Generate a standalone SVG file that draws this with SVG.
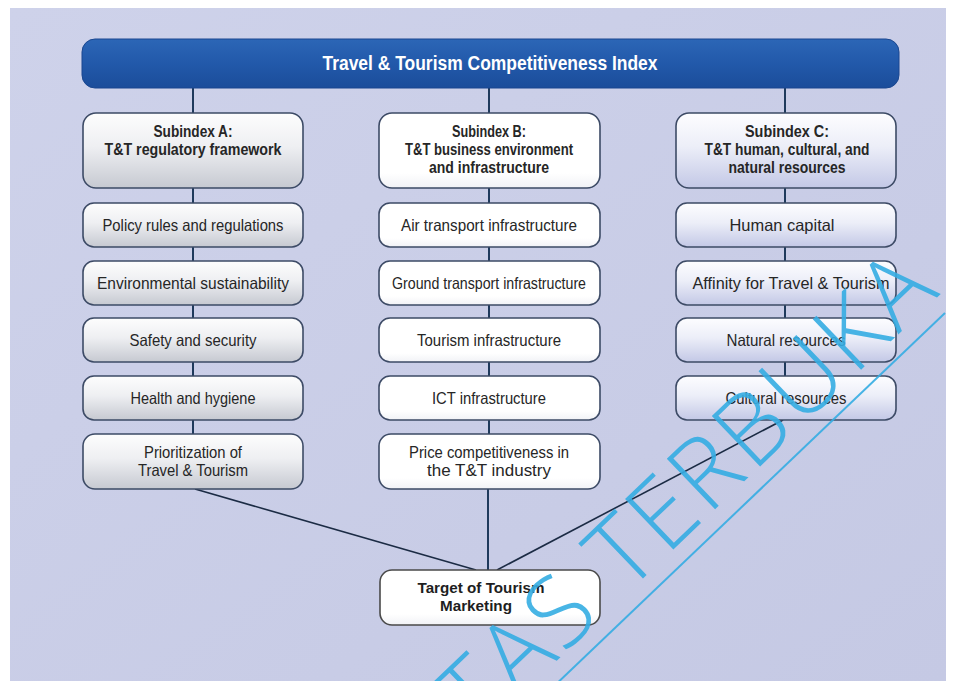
<svg xmlns="http://www.w3.org/2000/svg" width="954" height="681" viewBox="0 0 954 681">
  <defs>
    <linearGradient id="gBar" x1="0" y1="0" x2="0" y2="1">
      <stop offset="0" stop-color="#2c66b6"/>
      <stop offset="0.5" stop-color="#2259aa"/>
      <stop offset="1" stop-color="#1b4d9a"/>
    </linearGradient>
    <linearGradient id="gGray" x1="0" y1="0" x2="0" y2="1">
      <stop offset="0" stop-color="#fdfdfd"/>
      <stop offset="0.45" stop-color="#eeeff2"/>
      <stop offset="1" stop-color="#c6c9d1"/>
    </linearGradient>
    <linearGradient id="gWhite" x1="0" y1="0" x2="0" y2="1">
      <stop offset="0" stop-color="#ffffff"/>
      <stop offset="0.8" stop-color="#ffffff"/>
      <stop offset="1" stop-color="#f1f2f6"/>
    </linearGradient>
    <linearGradient id="gBlue" x1="0" y1="0" x2="0" y2="1">
      <stop offset="0" stop-color="#fdfdff"/>
      <stop offset="0.45" stop-color="#eceef8"/>
      <stop offset="1" stop-color="#c3c8e6"/>
    </linearGradient>
    <linearGradient id="gPanel" x1="0" y1="0" x2="1" y2="1">
      <stop offset="0" stop-color="#ced2ea"/>
      <stop offset="1" stop-color="#c5c9e4"/>
    </linearGradient>
  </defs>
  <style>
    .box { stroke: #3d4b66; stroke-width: 1.6; }
    .a { fill: url(#gGray); }
    .b { fill: url(#gWhite); }
    .c { fill: url(#gBlue); }
    text { font-family: "Liberation Sans Narrow", "Liberation Sans", Arial, sans-serif; fill: #262626; text-anchor: middle; font-size: 16.5px; }
    .h { font-weight: bold; font-size: 16px; }
    .title { fill: #ffffff; font-weight: bold; font-size: 19.5px; }
    .tgt { font-family: "Liberation Sans", Arial, sans-serif; font-weight: bold; font-size: 15px; fill: #1e1e1e; }
    .link { stroke: #1f3a5c; stroke-width: 2; fill: none; }
    .diag { stroke: #1b2b44; stroke-width: 1.6; fill: none; }
    .wm { font-family: "Open Sans", "DejaVu Sans", sans-serif; font-weight: 350; font-size: 98px; fill: #35ade3; text-anchor: start; }
  </style>

  <!-- page and panel -->
  <rect x="0" y="0" width="954" height="681" fill="#ffffff"/>
  <rect x="10" y="8" width="936" height="673" fill="url(#gPanel)"/>

  <!-- connectors -->
  <g id="connectors">
    <line class="link" x1="193" y1="88" x2="193" y2="113"/>
    <line class="link" x1="489" y1="88" x2="489" y2="113"/>
    <line class="link" x1="785" y1="88" x2="785" y2="113"/>

    <line class="link" x1="193" y1="188" x2="193" y2="203"/>
    <line class="link" x1="193" y1="247" x2="193" y2="261"/>
    <line class="link" x1="193" y1="305" x2="193" y2="318"/>
    <line class="link" x1="193" y1="362" x2="193" y2="376"/>
    <line class="link" x1="193" y1="420" x2="193" y2="434"/>

    <line class="link" x1="489" y1="188" x2="489" y2="203"/>
    <line class="link" x1="489" y1="247" x2="489" y2="261"/>
    <line class="link" x1="489" y1="305" x2="489" y2="318"/>
    <line class="link" x1="489" y1="362" x2="489" y2="376"/>
    <line class="link" x1="489" y1="420" x2="489" y2="434"/>

    <line class="link" x1="785" y1="188" x2="785" y2="203"/>
    <line class="link" x1="785" y1="247" x2="785" y2="261"/>
    <line class="link" x1="785" y1="305" x2="785" y2="318"/>
    <line class="link" x1="785" y1="362" x2="785" y2="376"/>

    <line class="link" x1="488" y1="489" x2="488" y2="570"/>
    <line class="diag" x1="195" y1="489" x2="476" y2="570"/>
    <line class="diag" x1="783" y1="420" x2="497" y2="570"/>
  </g>

  <!-- index bar -->
  <g id="index">
    <rect x="82" y="39" width="817" height="49" rx="13" fill="url(#gBar)" stroke="#1a4790" stroke-width="1"/>
    <text class="title" x="490" y="70" textLength="335" lengthAdjust="spacingAndGlyphs">Travel &amp; Tourism Competitiveness Index</text>
  </g>

  <!-- column A -->
  <g id="subindex-a">
    <rect class="box a" x="83" y="113" width="220" height="75" rx="13"/>
    <text class="h" x="193" y="137" textLength="79" lengthAdjust="spacingAndGlyphs">Subindex A:</text>
    <text class="h" x="193" y="155" textLength="177" lengthAdjust="spacingAndGlyphs">T&amp;T regulatory framework</text>
  </g>
  <g id="policy">
    <rect class="box a" x="83" y="203" width="220" height="44" rx="11"/>
    <text x="193" y="231" textLength="181" lengthAdjust="spacingAndGlyphs">Policy rules and regulations</text>
  </g>
  <g id="environment">
    <rect class="box a" x="83" y="261" width="220" height="44" rx="11"/>
    <text x="193" y="289" textLength="192" lengthAdjust="spacingAndGlyphs">Environmental sustainability</text>
  </g>
  <g id="safety">
    <rect class="box a" x="83" y="318" width="220" height="44" rx="11"/>
    <text x="193" y="346" textLength="127" lengthAdjust="spacingAndGlyphs">Safety and security</text>
  </g>
  <g id="health">
    <rect class="box a" x="83" y="376" width="220" height="44" rx="11"/>
    <text x="193" y="404" textLength="125" lengthAdjust="spacingAndGlyphs">Health and hygiene</text>
  </g>
  <g id="prioritization">
    <rect class="box a" x="83" y="434" width="220" height="55" rx="12"/>
    <text x="193" y="458" textLength="98" lengthAdjust="spacingAndGlyphs">Prioritization of</text>
    <text x="193" y="476" textLength="110" lengthAdjust="spacingAndGlyphs">Travel &amp; Tourism</text>
  </g>

  <!-- column B -->
  <g id="subindex-b">
    <rect class="box b" x="379" y="113" width="221" height="75" rx="13"/>
    <text class="h" x="489" y="137" textLength="74" lengthAdjust="spacingAndGlyphs">Subindex B:</text>
    <text class="h" x="489" y="155" textLength="168" lengthAdjust="spacingAndGlyphs">T&amp;T business environment</text>
    <text class="h" x="489" y="173" textLength="120" lengthAdjust="spacingAndGlyphs">and infrastructure</text>
  </g>
  <g id="air">
    <rect class="box b" x="379" y="203" width="221" height="44" rx="11"/>
    <text x="489" y="231" textLength="176" lengthAdjust="spacingAndGlyphs">Air transport infrastructure</text>
  </g>
  <g id="ground">
    <rect class="box b" x="379" y="261" width="221" height="44" rx="11"/>
    <text x="489" y="289" textLength="194" lengthAdjust="spacingAndGlyphs">Ground transport infrastructure</text>
  </g>
  <g id="tourism-infra">
    <rect class="box b" x="379" y="318" width="221" height="44" rx="11"/>
    <text x="489" y="346" textLength="144" lengthAdjust="spacingAndGlyphs">Tourism infrastructure</text>
  </g>
  <g id="ict">
    <rect class="box b" x="379" y="376" width="221" height="44" rx="11"/>
    <text x="489" y="404" textLength="114" lengthAdjust="spacingAndGlyphs">ICT infrastructure</text>
  </g>
  <g id="price">
    <rect class="box b" x="379" y="434" width="221" height="55" rx="12"/>
    <text x="489" y="458" textLength="160" lengthAdjust="spacingAndGlyphs">Price competitiveness in</text>
    <text x="489" y="476" textLength="124" lengthAdjust="spacingAndGlyphs">the T&amp;T industry</text>
  </g>

  <!-- column C -->
  <g id="subindex-c">
    <rect class="box c" x="676" y="113" width="220" height="75" rx="13"/>
    <text class="h" x="787" y="137" textLength="84" lengthAdjust="spacingAndGlyphs">Subindex C:</text>
    <text class="h" x="787" y="155" textLength="165" lengthAdjust="spacingAndGlyphs">T&amp;T human, cultural, and</text>
    <text class="h" x="787" y="173" textLength="117" lengthAdjust="spacingAndGlyphs">natural resources</text>
  </g>
  <g id="human">
    <rect class="box c" x="676" y="203" width="220" height="44" rx="11"/>
    <text x="782" y="231" textLength="105" lengthAdjust="spacingAndGlyphs">Human capital</text>
  </g>
  <g id="affinity">
    <rect class="box c" x="676" y="261" width="220" height="44" rx="11"/>
    <text x="791" y="289" textLength="197" lengthAdjust="spacingAndGlyphs">Affinity for Travel &amp; Tourism</text>
  </g>
  <g id="natural">
    <rect class="box c" x="676" y="318" width="220" height="44" rx="11"/>
    <text x="786" y="346" textLength="119" lengthAdjust="spacingAndGlyphs">Natural resources</text>
  </g>
  <g id="cultural">
    <rect class="box c" x="676" y="376" width="220" height="44" rx="11"/>
    <text x="786" y="404" textLength="121" lengthAdjust="spacingAndGlyphs">Cultural resources</text>
  </g>

  <!-- target -->
  <g id="target">
    <rect x="380" y="570" width="220" height="55" rx="12" fill="url(#gWhite)" stroke="#4a4a4a" stroke-width="1.6"/>
    <text class="tgt" x="481" y="593" textLength="127" lengthAdjust="spacingAndGlyphs">Target of Tourism</text>
    <text class="tgt" x="476" y="611" textLength="72" lengthAdjust="spacingAndGlyphs">Marketing</text>
  </g>

  <!-- diagonal stamp across the lower right -->
  <g id="stamp" opacity="0.9">
    <text class="wm" transform="translate(478 736) rotate(-43.7)" textLength="640" lengthAdjust="spacing">TAS TERBUKA</text>
    <line x1="550" y1="690" x2="945" y2="313" stroke="#35ade3" stroke-width="2"/>
  </g>
</svg>
